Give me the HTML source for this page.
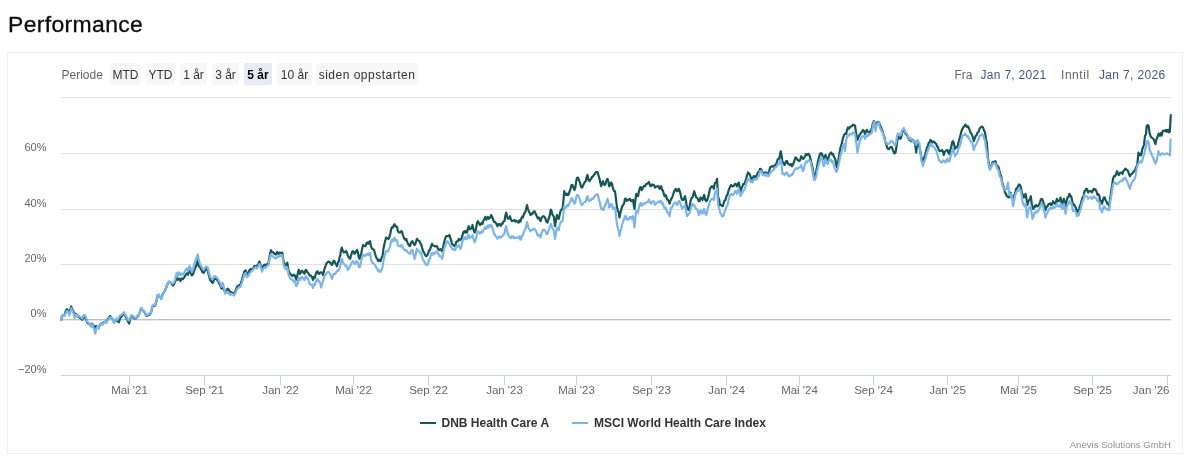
<!DOCTYPE html>
<html lang="no">
<head>
<meta charset="utf-8">
<title>Performance</title>
<style>
html,body{margin:0;padding:0;background:#fff;}
body{width:1186px;height:460px;position:relative;overflow:hidden;font-family:"Liberation Sans", sans-serif;}
h2{position:absolute;left:7.5px;top:11.2px;margin:0;font-size:22.4px;line-height:28px;font-weight:normal;color:#0b0b0b;letter-spacing:0.35px;white-space:nowrap;-webkit-text-stroke:0.3px #0b0b0b;transform:scaleX(1.024);transform-origin:0 0;}
</style>
</head>
<body>
<h2>Performance</h2>
<svg width="1186" height="460" viewBox="0 0 1186 460" style="position:absolute;left:0;top:0;font-family:'Liberation Sans',sans-serif">
<rect x="7.5" y="52.5" width="1175" height="401" fill="#fff" stroke="#eeeeee" stroke-width="1"/>
<path d="M61 97.5 H1171" stroke="#e0e0e0" stroke-width="1" fill="none"/>
<path d="M61 153.5 H1171" stroke="#e0e0e0" stroke-width="1" fill="none"/>
<path d="M61 209.5 H1171" stroke="#e0e0e0" stroke-width="1" fill="none"/>
<path d="M61 264.5 H1171" stroke="#e0e0e0" stroke-width="1" fill="none"/>
<path d="M61 320.5 H1171" stroke="#e6e6e6" stroke-width="1" fill="none"/>
<path d="M61 319.5 H1171" stroke="#c0c0c0" stroke-width="1" fill="none"/>
<path d="M61 375.5 H1171" stroke="#c8d1dc" stroke-width="1" fill="none"/>
<path d="M129.5 376 V385" stroke="#c8d1dc" stroke-width="1" fill="none"/>
<path d="M204.5 376 V385" stroke="#c8d1dc" stroke-width="1" fill="none"/>
<path d="M280.5 376 V385" stroke="#c8d1dc" stroke-width="1" fill="none"/>
<path d="M353.5 376 V385" stroke="#c8d1dc" stroke-width="1" fill="none"/>
<path d="M428.5 376 V385" stroke="#c8d1dc" stroke-width="1" fill="none"/>
<path d="M504.5 376 V385" stroke="#c8d1dc" stroke-width="1" fill="none"/>
<path d="M576.5 376 V385" stroke="#c8d1dc" stroke-width="1" fill="none"/>
<path d="M651.5 376 V385" stroke="#c8d1dc" stroke-width="1" fill="none"/>
<path d="M726.5 376 V385" stroke="#c8d1dc" stroke-width="1" fill="none"/>
<path d="M799.5 376 V385" stroke="#c8d1dc" stroke-width="1" fill="none"/>
<path d="M873.5 376 V385" stroke="#c8d1dc" stroke-width="1" fill="none"/>
<path d="M947.5 376 V385" stroke="#c8d1dc" stroke-width="1" fill="none"/>
<path d="M1018.5 376 V385" stroke="#c8d1dc" stroke-width="1" fill="none"/>
<path d="M1092.5 376 V385" stroke="#c8d1dc" stroke-width="1" fill="none"/>
<path d="M1167.5 376 V385" stroke="#c8d1dc" stroke-width="1" fill="none"/>
<text x="46.5" y="150.5" text-anchor="end" font-size="11" fill="#666">60%</text>
<text x="46.5" y="206.5" text-anchor="end" font-size="11" fill="#666">40%</text>
<text x="46.5" y="261.5" text-anchor="end" font-size="11" fill="#666">20%</text>
<text x="46.5" y="316.5" text-anchor="end" font-size="11" fill="#666">0%</text>
<text x="46.5" y="372.5" text-anchor="end" font-size="11" fill="#666">−20%</text>
<text x="129.5" y="394" text-anchor="middle" font-size="11.5" fill="#666">Mai '21</text>
<text x="204.5" y="394" text-anchor="middle" font-size="11.5" fill="#666">Sep '21</text>
<text x="280.5" y="394" text-anchor="middle" font-size="11.5" fill="#666">Jan '22</text>
<text x="353.5" y="394" text-anchor="middle" font-size="11.5" fill="#666">Mai '22</text>
<text x="428.5" y="394" text-anchor="middle" font-size="11.5" fill="#666">Sep '22</text>
<text x="504.5" y="394" text-anchor="middle" font-size="11.5" fill="#666">Jan '23</text>
<text x="576.5" y="394" text-anchor="middle" font-size="11.5" fill="#666">Mai '23</text>
<text x="651.5" y="394" text-anchor="middle" font-size="11.5" fill="#666">Sep '23</text>
<text x="726.5" y="394" text-anchor="middle" font-size="11.5" fill="#666">Jan '24</text>
<text x="799.5" y="394" text-anchor="middle" font-size="11.5" fill="#666">Mai '24</text>
<text x="873.5" y="394" text-anchor="middle" font-size="11.5" fill="#666">Sep '24</text>
<text x="947.5" y="394" text-anchor="middle" font-size="11.5" fill="#666">Jan '25</text>
<text x="1018.5" y="394" text-anchor="middle" font-size="11.5" fill="#666">Mai '25</text>
<text x="1092.5" y="394" text-anchor="middle" font-size="11.5" fill="#666">Sep '25</text>
<text x="1169.5" y="394" text-anchor="end" font-size="11.5" fill="#666">Jan '26</text>
<path d="M61.3 319.8 L62.0 316.0 L63.2 315.1 L64.5 315.4 L65.8 310.9 L67.0 309.1 L68.3 310.9 L69.2 313.5 L70.2 309.7 L71.2 306.5 L72.1 309.1 L73.4 311.6 L74.6 313.5 L75.9 313.9 L77.2 316.0 L78.4 316.6 L79.7 317.7 L80.9 318.5 L82.2 319.8 L83.5 317.3 L84.7 316.6 L86.0 319.2 L87.3 323.0 L88.5 323.6 L89.8 324.2 L91.1 326.1 L92.3 323.6 L93.6 326.8 L94.45 326.2 L95.3 329.3 L96.1 326.1 L97.4 327.4 L98.7 327.4 L99.9 324.9 L101.2 323.6 L102.5 324.2 L103.7 322.3 L105.0 321.7 L106.3 322.3 L107.5 319.8 L108.8 317.9 L110.1 316.0 L111.3 317.9 L112.6 319.2 L113.9 321.7 L115.1 321.1 L116.4 320.4 L117.7 321.1 L118.9 322.3 L120.2 317.9 L121.5 316.6 L122.7 314.7 L124.0 313.5 L125.3 316.0 L126.5 318.5 L127.8 321.1 L129.1 323.6 L130.3 318.5 L131.6 315.4 L132.8 316.6 L134.1 318.5 L135.4 318.5 L136.35 317.98 L137.3 316.6 L138.5 315.4 L139.8 312.2 L141.1 308.4 L142.3 309.7 L143.6 310.9 L144.9 312.8 L146.1 315.4 L147.4 316.0 L148.7 314.7 L149.9 314.7 L151.2 312.2 L152.5 306.5 L153.7 305.3 L155.0 305.9 L156.3 302.1 L157.5 295.8 L158.8 295.1 L160.1 297.5 L161.4 298.8 L162.7 293.7 L163.9 292.5 L165.2 289.9 L166.5 286.8 L167.7 283.6 L169.0 281.7 L170.3 282.3 L171.5 283.6 L172.8 285.5 L174.1 284.2 L175.3 281.1 L176.6 277.9 L177.8 279.8 L179.1 278.5 L180.4 281.1 L181.6 278.5 L182.9 279.2 L184.2 277.3 L185.4 275.4 L186.7 273.5 L188.0 274.7 L189.2 270.9 L190.5 272.2 L191.8 275.4 L193.0 274.1 L194.3 270.3 L195.6 267.2 L196.8 264.0 L197.8 260.2 L198.7 265.9 L200.0 267.2 L201.3 269.7 L202.5 272.2 L203.8 272.8 L205.1 270.3 L206.3 269.1 L207.6 270.3 L208.9 275.4 L210.1 279.8 L211.4 281.7 L212.7 283.0 L213.9 279.8 L215.2 278.5 L216.5 279.2 L217.7 280.4 L219.0 283.0 L220.3 285.5 L221.5 288.7 L222.8 286.8 L224.1 289.9 L225.3 292.5 L226.6 289.9 L227.8 288.7 L229.1 290.6 L230.4 291.8 L231.6 292.5 L232.9 293.1 L234.2 293.7 L235.4 291.2 L236.7 287.4 L238.0 285.5 L239.2 285.5 L240.5 284.2 L241.8 280.4 L243.0 276.0 L244.3 271.6 L245.6 270.3 L246.8 274.7 L248.1 273.5 L249.4 270.3 L250.6 269.1 L251.9 269.7 L253.2 268.4 L254.4 265.9 L255.7 266.5 L257.0 265.9 L258.2 264.0 L259.5 261.5 L260.8 265.9 L262.0 268.4 L263.3 265.9 L264.6 264.6 L265.8 265.3 L267.1 264.0 L268.4 263.4 L269.6 256.4 L270.9 250.1 L272.2 252.0 L273.4 252.6 L274.7 253.9 L275.9 254.5 L277.2 252.0 L278.5 253.9 L279.7 252.6 L281.0 253.2 L282.3 252.6 L283.5 260.8 L284.8 264.6 L286.1 265.3 L287.3 262.7 L288.6 270.9 L289.9 273.5 L291.1 274.7 L292.4 276.0 L293.7 274.7 L294.9 275.4 L296.2 279.8 L297.5 274.7 L298.7 269.7 L300.0 273.8 L300.83 272.47 L301.67 270.77 L302.5 271.2 L303.5 272.71 L304.5 273.8 L305.35 270.52 L306.2 270.0 L307.07 271.98 L307.93 272.6 L308.8 273.8 L309.6 275.51 L310.4 275.33 L311.2 276.2 L312.1 277.19 L313.0 280.0 L313.83 276.97 L314.67 278.02 L315.5 275.0 L316.5 272.12 L317.5 271.2 L318.5 273.73 L319.5 273.8 L320.35 272.26 L321.2 272.5 L322.1 272.69 L323.0 275.0 L323.83 271.5 L324.67 268.19 L325.5 266.2 L326.5 263.32 L327.5 262.5 L328.33 261.4 L329.17 261.91 L330.0 262.5 L331.0 263.73 L332.0 265.0 L332.83 262.87 L333.67 260.73 L334.5 261.2 L335.33 263.49 L336.17 264.22 L337.0 266.2 L337.83 262.95 L338.67 261.64 L339.5 257.5 L340.27 255.12 L341.03 250.36 L341.8 247.5 L342.8 250.73 L343.8 252.5 L344.6 251.81 L345.4 252.16 L346.2 251.2 L347.1 253.02 L348.0 256.2 L349.0 257.64 L350.0 258.8 L350.83 256.32 L351.67 253.33 L352.5 251.2 L353.5 251.53 L354.5 253.8 L355.33 252.94 L356.17 251.03 L357.0 250.0 L357.83 252.05 L358.67 256.51 L359.5 258.8 L360.35 256.64 L361.2 253.8 L362.1 248.85 L363.0 245.0 L364.0 245.69 L365.0 246.2 L365.83 245.24 L366.67 242.95 L367.5 242.5 L368.33 243.81 L369.17 241.94 L370.0 241.2 L371.0 246.2 L372.0 248.8 L373.0 249.06 L374.0 250.0 L375.1 253.78 L376.2 257.5 L377.2 258.8 L378.2 261.2 L378.97 259.72 L379.73 260.58 L380.5 261.2 L381.5 257.93 L382.5 256.2 L383.5 248.31 L384.5 243.8 L385.35 240.15 L386.2 237.5 L387.07 237.94 L387.93 238.79 L388.8 238.8 L389.6 236.16 L390.4 233.47 L391.2 228.8 L392.07 227.19 L392.93 227.6 L393.8 225.0 L394.6 224.29 L395.4 226.48 L396.2 226.2 L397.07 227.21 L397.93 231.43 L398.8 232.5 L399.6 232.34 L400.4 232.32 L401.2 231.2 L402.07 231.75 L402.93 235.01 L403.8 237.5 L404.6 239.14 L405.4 239.76 L406.2 238.8 L407.1 241.65 L408.0 243.8 L409.0 245.44 L410.0 246.2 L410.83 243.39 L411.67 241.46 L412.5 241.2 L413.5 243.16 L414.5 245.0 L415.33 244.21 L416.17 241.08 L417.0 238.8 L417.83 240.34 L418.67 240.67 L419.5 241.2 L420.33 243.28 L421.17 244.36 L422.0 247.5 L423.0 250.82 L424.0 252.5 L425.1 254.79 L426.2 256.2 L427.1 255.48 L428.0 253.8 L429.0 250.67 L430.0 250.0 L431.0 246.47 L432.0 243.8 L432.83 245.53 L433.67 245.67 L434.5 246.2 L435.33 246.17 L436.17 246.52 L437.0 246.2 L437.83 248.51 L438.67 249.39 L439.5 250.0 L440.33 249.15 L441.17 249.8 L442.0 251.2 L442.9 248.16 L443.8 243.8 L444.65 240.41 L445.5 237.5 L446.5 235.9 L447.5 236.2 L448.5 236.19 L449.5 235.0 L450.33 238.16 L451.17 240.24 L452.0 243.8 L452.83 244.48 L453.67 245.16 L454.5 246.2 L455.33 245.56 L456.17 242.0 L457.0 241.2 L457.9 241.43 L458.8 238.8 L459.65 239.39 L460.5 240.0 L461.5 238.86 L462.5 235.0 L463.5 231.93 L464.5 231.2 L465.33 232.7 L466.17 230.88 L467.0 232.5 L467.9 228.36 L468.8 226.2 L469.65 229.22 L470.5 228.8 L471.5 228.16 L472.5 225.0 L473.5 229.66 L474.5 232.5 L475.35 231.51 L476.2 227.5 L477.1 222.68 L478.0 221.2 L479.0 223.42 L480.0 225.0 L480.83 224.18 L481.67 222.71 L482.5 223.8 L483.5 220.26 L484.5 218.8 L485.33 216.82 L486.17 219.81 L487.0 218.8 L487.83 216.98 L488.67 218.82 L489.5 217.5 L490.35 217.58 L491.2 215.0 L492.2 216.96 L493.2 220.0 L493.97 221.9 L494.73 221.59 L495.5 222.5 L496.5 224.16 L497.5 226.2 L498.33 224.11 L499.17 223.98 L500.0 225.0 L500.83 225.82 L501.67 223.51 L502.5 223.8 L503.5 221.57 L504.5 221.2 L505.35 215.89 L506.2 212.5 L507.1 216.54 L508.0 218.8 L509.0 218.32 L510.0 216.2 L511.0 219.86 L512.0 221.2 L512.83 220.64 L513.67 220.67 L514.5 220.0 L515.33 221.5 L516.17 220.66 L517.0 221.2 L517.9 221.99 L518.8 222.5 L519.6 220.02 L520.4 221.63 L521.2 218.8 L522.1 216.55 L523.0 217.5 L524.0 213.91 L525.0 212.5 L526.0 209.83 L527.0 205.0 L527.9 208.79 L528.8 211.2 L529.65 212.93 L530.5 215.0 L531.5 213.61 L532.5 213.8 L533.5 211.8 L534.5 211.2 L535.35 213.14 L536.2 215.0 L537.07 216.77 L537.93 218.63 L538.8 217.5 L539.65 218.57 L540.5 221.2 L541.33 218.32 L542.17 217.12 L543.0 216.2 L543.83 216.43 L544.67 217.1 L545.5 218.8 L546.5 221.89 L547.5 222.5 L548.35 219.56 L549.2 217.5 L550.0 213.7 L550.8 209.5 L551.65 211.32 L552.5 215.0 L553.8 216.2 L555.0 226.2 L556.0 220.41 L557.0 215.0 L557.9 218.46 L558.8 218.8 L559.65 214.69 L560.5 211.2 L561.5 209.51 L562.5 208.8 L563.35 201.72 L564.2 191.2 L565.2 194.03 L566.2 195.0 L567.07 193.64 L567.93 195.07 L568.8 193.8 L569.65 191.14 L570.5 188.8 L571.5 185.15 L572.5 185.0 L573.5 187.99 L574.5 190.0 L575.35 187.4 L576.2 181.2 L577.1 177.72 L578.0 177.5 L579.0 180.39 L580.0 182.5 L581.0 186.79 L582.0 187.5 L582.9 186.16 L583.8 183.8 L584.8 182.04 L585.8 181.2 L586.65 177.09 L587.5 175.0 L588.5 179.83 L589.5 181.2 L590.35 179.62 L591.2 178.8 L592.07 176.8 L592.93 176.55 L593.8 175.0 L594.65 174.19 L595.5 172.5 L596.5 172.03 L597.5 172.0 L598.5 175.24 L599.5 178.8 L600.35 182.74 L601.2 186.2 L602.1 182.8 L603.0 181.2 L603.75 184.08 L604.5 185.0 L605.35 184.42 L606.2 181.2 L607.5 178.8 L608.35 181.54 L609.2 186.2 L610.2 184.96 L611.2 182.5 L612.1 184.04 L613.0 188.8 L614.0 190.9 L615.0 191.2 L616.2 201.2 L617.1 207.88 L618.0 211.2 L618.75 212.47 L619.5 217.5 L620.35 212.97 L621.2 210.0 L622.2 206.42 L623.2 205.0 L624.1 203.1 L625.0 198.8 L625.83 198.6 L626.67 200.85 L627.5 200.0 L628.5 200.07 L629.5 198.8 L630.35 199.34 L631.2 201.2 L632.1 200.32 L633.0 200.0 L633.75 204.82 L634.5 208.8 L635.35 200.21 L636.2 193.8 L637.1 195.13 L638.0 196.2 L639.0 190.98 L640.0 187.5 L640.83 187.06 L641.67 190.27 L642.5 188.8 L643.33 186.59 L644.17 185.95 L645.0 186.2 L646.0 184.26 L647.0 183.8 L648.0 183.27 L649.0 182.0 L650.1 185.81 L651.2 186.2 L652.1 184.37 L653.0 185.0 L654.0 185.1 L655.0 187.5 L655.83 186.8 L656.67 186.6 L657.5 186.2 L658.5 186.38 L659.5 188.8 L660.35 186.68 L661.2 186.2 L662.07 189.89 L662.93 190.51 L663.8 193.8 L664.6 196.1 L665.4 194.98 L666.2 196.2 L667.1 199.45 L668.0 200.0 L668.75 201.33 L669.5 203.8 L670.35 201.27 L671.2 198.8 L672.1 197.76 L673.0 195.0 L674.0 191.63 L675.0 190.0 L676.0 188.76 L677.0 191.2 L677.9 191.17 L678.8 188.8 L679.6 190.61 L680.4 193.53 L681.2 197.5 L682.1 199.85 L683.0 200.0 L684.0 198.96 L685.0 196.2 L686.0 201.45 L687.0 207.5 L687.9 208.98 L688.8 210.0 L689.65 206.32 L690.5 201.2 L691.5 198.4 L692.5 197.5 L693.35 194.7 L694.2 191.2 L695.2 194.52 L696.2 197.5 L697.07 197.7 L697.93 199.23 L698.8 201.2 L699.65 201.15 L700.5 197.5 L701.5 198.37 L702.5 200.0 L703.35 197.07 L704.2 195.0 L705.2 199.67 L706.2 201.2 L707.1 200.39 L708.0 197.5 L709.0 193.48 L710.0 188.8 L711.0 187.15 L712.0 186.2 L712.9 186.68 L713.8 188.8 L714.65 184.0 L715.5 182.5 L716.25 181.79 L717.0 178.8 L718.2 197.5 L719.1 199.39 L720.0 205.0 L721.0 204.82 L722.0 206.2 L722.9 205.99 L723.8 202.5 L724.65 200.47 L725.5 200.0 L726.5 195.9 L727.5 195.0 L728.35 191.41 L729.2 188.8 L730.2 186.39 L731.2 185.0 L732.1 186.37 L733.0 186.2 L734.0 185.64 L735.0 183.8 L736.0 184.27 L737.0 186.2 L737.9 183.61 L738.8 182.5 L739.65 186.94 L740.5 191.2 L741.5 188.21 L742.5 186.2 L743.5 183.75 L744.5 183.8 L745.35 181.29 L746.2 178.8 L747.1 175.32 L748.0 172.5 L749.0 173.37 L750.0 175.0 L750.83 177.74 L751.67 178.33 L752.5 180.0 L753.5 176.42 L754.5 176.2 L755.33 177.24 L756.17 176.22 L757.0 175.0 L757.9 172.47 L758.8 172.5 L760.0 168.8 L761.0 169.02 L762.0 171.2 L762.9 173.6 L763.8 173.8 L764.6 172.55 L765.4 174.45 L766.2 172.5 L767.1 172.9 L768.0 173.8 L769.0 172.46 L770.0 167.5 L771.0 166.82 L772.0 166.2 L772.9 166.17 L773.8 167.5 L774.65 165.48 L775.5 165.0 L776.5 163.28 L777.5 160.0 L778.35 158.55 L779.2 158.8 L780.0 154.67 L780.8 151.2 L781.65 156.07 L782.5 162.5 L783.5 162.62 L784.5 165.0 L785.35 163.29 L786.2 161.2 L787.1 161.11 L788.0 163.8 L789.0 164.3 L790.0 165.0 L791.0 163.95 L792.0 166.2 L792.9 164.72 L793.8 162.5 L794.65 159.83 L795.5 157.5 L796.5 158.13 L797.5 160.0 L798.35 160.32 L799.2 161.2 L800.2 159.94 L801.2 156.2 L802.1 157.53 L803.0 158.8 L804.0 158.07 L805.0 156.2 L806.0 153.92 L807.0 155.0 L807.9 154.0 L808.8 153.8 L809.65 155.84 L810.5 158.8 L811.5 163.38 L812.5 167.5 L813.35 172.4 L814.2 176.2 L815.2 174.73 L816.2 171.2 L817.1 166.4 L818.0 161.2 L819.0 157.56 L820.0 153.8 L821.0 153.23 L822.0 153.8 L822.9 157.67 L823.8 158.8 L824.65 156.62 L825.5 155.0 L826.5 158.42 L827.5 160.0 L828.35 158.57 L829.2 155.0 L830.2 153.27 L831.2 152.5 L832.1 154.48 L833.0 153.8 L833.83 156.65 L834.67 157.87 L835.5 160.0 L836.25 164.86 L837.0 167.5 L837.9 163.15 L838.8 157.5 L839.65 152.51 L840.5 147.5 L841.5 144.73 L842.5 140.0 L843.35 137.02 L844.2 135.0 L845.2 133.7 L846.2 133.8 L847.1 129.89 L848.0 127.5 L849.0 128.74 L850.0 127.0 L851.0 126.36 L852.0 126.2 L852.9 124.66 L853.8 125.0 L855.0 125.5 L856.2 133.8 L857.5 140.0 L858.5 136.93 L859.5 135.0 L860.35 133.8 L861.2 132.5 L862.1 131.58 L863.0 130.0 L864.0 130.79 L865.0 133.8 L865.9 131.69 L866.8 130.0 L867.8 131.65 L868.8 132.5 L869.65 131.74 L870.5 131.2 L871.25 129.69 L872.0 127.5 L872.9 123.03 L873.8 121.2 L874.65 123.52 L875.5 127.5 L876.25 124.67 L877.0 122.5 L877.9 123.07 L878.8 122.0 L879.65 124.33 L880.5 126.2 L881.5 128.55 L882.5 131.2 L883.5 134.76 L884.5 137.5 L885.35 142.31 L886.2 143.8 L887.1 147.78 L888.0 148.8 L889.0 149.19 L890.0 147.5 L891.0 146.83 L892.0 147.5 L892.9 150.17 L893.8 152.5 L894.65 153.43 L895.5 152.5 L896.25 148.3 L897.0 142.5 L897.9 137.7 L898.8 136.2 L899.65 138.48 L900.5 138.8 L901.25 137.01 L902.0 132.5 L902.9 131.35 L903.8 128.8 L904.65 130.87 L905.5 133.8 L906.5 134.59 L907.5 136.2 L908.5 138.43 L909.5 140.0 L910.35 139.26 L911.2 141.2 L912.1 139.63 L913.0 140.0 L914.0 142.14 L915.0 142.5 L916.2 152.5 L917.5 141.2 L918.5 144.4 L919.5 147.5 L920.35 151.33 L921.2 156.2 L922.1 160.0 L923.0 163.8 L924.0 157.97 L925.0 155.0 L926.0 151.16 L927.0 147.5 L927.9 146.04 L928.8 142.5 L929.65 142.64 L930.5 140.0 L931.5 140.9 L932.5 142.5 L933.5 141.64 L934.5 142.0 L935.35 143.49 L936.2 143.8 L937.1 146.25 L938.0 147.5 L939.0 150.43 L940.0 151.2 L941.0 150.85 L942.0 150.0 L942.9 151.33 L943.8 155.0 L944.65 151.95 L945.5 151.2 L946.5 150.3 L947.5 150.0 L948.5 153.2 L949.5 153.8 L950.35 149.57 L951.2 147.5 L952.1 142.42 L953.0 141.2 L954.0 143.85 L955.0 148.8 L956.0 147.32 L957.0 147.5 L957.9 144.77 L958.8 141.2 L959.65 138.41 L960.5 135.0 L961.5 130.99 L962.5 128.8 L963.5 126.96 L964.5 126.2 L965.35 124.53 L966.2 125.8 L967.1 127.11 L968.0 126.2 L969.0 128.38 L970.0 131.2 L971.0 133.26 L972.0 135.0 L972.9 137.56 L973.8 141.2 L974.65 138.59 L975.5 136.2 L976.5 135.46 L977.5 132.5 L978.5 132.28 L979.5 128.8 L980.35 127.77 L981.2 127.0 L982.1 126.61 L983.0 127.5 L984.0 130.38 L985.0 132.5 L985.9 138.39 L986.8 142.5 L988.2 160.0 L989.1 164.74 L990.0 168.8 L991.0 167.1 L992.0 163.8 L992.9 161.83 L993.8 162.5 L994.65 161.52 L995.5 161.2 L996.5 164.93 L997.5 166.2 L998.5 167.03 L999.5 171.2 L1000.35 174.63 L1001.2 176.2 L1002.1 181.67 L1003.0 185.0 L1004.0 187.8 L1005.0 192.5 L1005.9 193.75 L1006.8 196.2 L1007.8 196.59 L1008.8 197.5 L1009.65 195.68 L1010.5 192.5 L1011.5 197.24 L1012.5 200.0 L1013.5 197.7 L1014.5 195.0 L1015.35 192.43 L1016.2 188.8 L1017.1 188.0 L1018.0 186.2 L1019.0 184.43 L1020.0 185.0 L1021.0 187.7 L1022.0 193.8 L1022.9 194.58 L1023.8 197.5 L1024.65 197.05 L1025.5 193.8 L1026.5 199.14 L1027.5 205.0 L1028.35 201.27 L1029.2 200.0 L1030.0 199.5 L1030.8 196.2 L1031.65 203.3 L1032.5 208.8 L1033.5 208.79 L1034.5 206.2 L1035.35 206.63 L1036.2 205.0 L1037.1 206.34 L1038.0 206.2 L1039.0 204.79 L1040.0 202.5 L1040.9 199.33 L1041.8 198.8 L1042.8 200.51 L1043.8 203.8 L1044.65 206.14 L1045.5 210.0 L1046.5 207.05 L1047.5 206.2 L1048.5 204.3 L1049.5 203.8 L1050.35 203.4 L1051.2 205.0 L1052.1 204.14 L1053.0 201.2 L1054.0 202.85 L1055.0 203.8 L1056.0 201.85 L1057.0 198.8 L1057.9 201.29 L1058.8 201.2 L1059.65 200.68 L1060.5 197.5 L1061.5 201.95 L1062.5 203.8 L1063.8 198.8 L1064.65 202.21 L1065.5 207.5 L1066.5 201.53 L1067.5 197.5 L1068.5 197.06 L1069.5 193.8 L1070.35 195.86 L1071.2 196.2 L1072.1 200.26 L1073.0 205.0 L1074.0 204.33 L1075.0 206.2 L1076.0 208.13 L1077.0 212.5 L1077.9 210.24 L1078.8 211.2 L1079.8 206.47 L1080.8 203.8 L1081.65 200.66 L1082.5 197.5 L1083.5 196.2 L1084.5 191.2 L1085.35 190.67 L1086.2 188.8 L1087.2 189.34 L1088.2 192.5 L1089.1 191.57 L1090.0 191.2 L1091.0 191.01 L1092.0 192.5 L1092.9 190.56 L1093.8 188.8 L1094.65 189.98 L1095.5 189.5 L1096.5 191.51 L1097.5 195.0 L1098.5 194.21 L1099.5 196.2 L1100.0 201.2 L1101.0 200.7 L1102.0 203.8 L1102.9 200.56 L1103.8 197.5 L1104.65 197.32 L1105.5 200.0 L1106.5 201.57 L1107.5 203.8 L1108.35 204.39 L1109.2 206.2 L1110.2 198.39 L1111.2 191.2 L1112.1 185.31 L1113.0 178.8 L1114.0 176.11 L1115.0 176.2 L1116.0 174.61 L1117.0 171.2 L1117.9 173.73 L1118.8 175.0 L1119.65 173.4 L1120.5 172.5 L1121.5 172.58 L1122.5 173.8 L1123.5 170.84 L1124.5 170.0 L1125.35 168.62 L1126.2 169.5 L1127.1 169.95 L1128.0 171.2 L1129.0 174.18 L1130.0 176.2 L1131.0 174.25 L1132.0 173.8 L1132.9 172.59 L1133.8 171.2 L1134.65 171.11 L1135.5 168.8 L1136.35 166.76 L1137.2 165.1 L1138.5 152.7 L1139.2 155.3 L1140.2 154.0 L1141.1 155.3 L1142.4 148.7 L1143.3 146.8 L1144.1 144.2 L1145.0 135.7 L1146.0 134.4 L1146.7 125.9 L1147.7 125.2 L1148.6 125.9 L1149.6 133.1 L1150.7 136.3 L1151.6 137.6 L1152.9 138.3 L1154.2 140.2 L1155.5 144.2 L1156.4 139.6 L1157.4 137.0 L1158.7 133.7 L1159.8 135.7 L1160.7 133.1 L1161.6 135.7 L1162.7 131.1 L1164.0 130.5 L1165.0 131.1 L1165.9 129.8 L1166.8 131.8 L1167.9 129.8 L1168.9 132.4 L1169.8 131.8 L1170.8 115.2" stroke="#145754" stroke-width="2.2" fill="none" stroke-linejoin="round" stroke-linecap="round"/>
<path d="M61.3 319.8 L62.0 315.4 L63.2 314.7 L64.5 316.0 L65.8 312.8 L67.0 310.9 L68.3 312.2 L69.2 315.4 L70.2 312.2 L71.2 308.4 L72.1 310.3 L73.4 312.8 L74.6 317.9 L75.9 314.7 L77.2 316.6 L78.4 315.4 L79.7 316.6 L80.9 317.3 L82.2 318.5 L83.5 315.4 L84.7 315.1 L86.0 317.3 L87.3 321.7 L88.5 323.0 L89.8 323.6 L91.1 326.8 L92.3 324.2 L93.6 328.0 L94.45 329.82 L95.3 333.7 L96.1 329.3 L97.4 326.8 L98.7 328.7 L99.9 325.5 L101.2 323.6 L102.5 324.9 L103.7 323.0 L105.0 321.7 L106.3 323.0 L107.5 320.4 L108.8 319.2 L110.1 317.3 L111.3 317.9 L112.6 319.8 L113.9 323.0 L115.1 321.1 L116.4 318.5 L117.7 319.8 L118.9 317.3 L120.2 315.4 L121.5 314.7 L122.7 313.5 L124.0 312.2 L125.3 314.7 L126.5 316.6 L127.8 319.8 L129.1 320.4 L130.3 317.3 L131.6 315.4 L132.8 316.0 L134.1 317.3 L135.4 317.9 L136.35 317.48 L137.3 316.0 L138.5 315.4 L139.8 312.2 L141.1 307.8 L142.3 309.1 L143.6 310.3 L144.9 312.2 L146.1 314.7 L147.4 315.4 L148.7 313.5 L149.9 314.1 L151.2 312.2 L152.5 305.9 L153.7 304.6 L155.0 305.3 L156.3 301.5 L157.5 295.1 L158.8 294.5 L160.1 297.5 L161.4 298.8 L162.7 293.7 L163.9 292.5 L165.2 289.9 L166.5 286.8 L167.7 283.6 L169.0 281.7 L170.3 282.3 L171.5 283.0 L172.8 283.6 L174.1 282.3 L175.3 278.5 L176.6 272.8 L177.8 276.0 L179.1 272.2 L180.4 275.4 L181.6 273.5 L182.9 274.7 L184.2 272.8 L185.4 270.3 L186.7 268.4 L188.0 270.9 L189.2 265.9 L190.5 267.8 L191.8 272.2 L193.0 269.7 L194.3 264.0 L195.6 260.2 L196.8 257.0 L197.8 254.5 L198.7 259.6 L200.0 264.0 L201.3 265.9 L202.5 268.4 L203.8 269.7 L205.1 267.8 L206.3 266.5 L207.6 267.2 L208.9 272.2 L210.1 276.6 L211.4 278.5 L212.7 279.2 L213.9 276.6 L215.2 276.0 L216.5 277.3 L217.7 278.5 L219.0 281.1 L220.3 283.0 L221.5 286.8 L222.8 283.0 L224.1 288.0 L225.3 293.7 L226.6 292.5 L227.8 291.8 L229.1 293.7 L230.4 295.0 L231.6 293.7 L232.9 294.4 L234.2 295.6 L235.4 293.1 L236.7 289.9 L238.0 288.0 L239.2 287.4 L240.5 286.8 L241.8 283.0 L243.0 279.2 L244.3 274.7 L245.6 272.8 L246.8 277.3 L248.1 276.6 L249.4 273.5 L250.6 272.2 L251.9 270.9 L253.2 269.7 L254.4 267.8 L255.7 267.2 L257.0 268.4 L258.2 266.5 L259.5 264.0 L260.8 267.2 L262.0 271.6 L263.3 269.1 L264.6 267.2 L265.8 267.8 L267.1 265.9 L268.4 265.3 L269.6 258.9 L270.9 254.5 L272.2 255.8 L273.4 257.0 L274.7 257.7 L275.9 258.3 L277.2 256.4 L278.5 257.0 L279.7 255.8 L281.0 255.8 L282.3 255.1 L283.5 264.0 L284.8 267.8 L286.1 269.1 L287.3 267.2 L288.6 274.7 L289.9 277.9 L291.1 279.2 L292.4 279.8 L293.7 281.7 L294.9 280.4 L296.2 286.1 L297.5 284.2 L298.7 277.9 L300.0 280.0 L300.83 278.0 L301.67 276.87 L302.5 277.5 L303.5 279.3 L304.5 280.0 L305.35 277.01 L306.2 276.2 L307.07 278.6 L307.93 279.12 L308.8 281.2 L309.6 283.89 L310.4 284.24 L311.2 285.0 L312.1 285.33 L313.0 288.0 L313.83 284.52 L314.67 285.35 L315.5 282.5 L316.5 280.06 L317.5 278.8 L318.5 281.5 L319.5 281.2 L320.35 283.73 L321.2 287.5 L322.1 284.01 L323.0 281.2 L323.83 278.16 L324.67 275.66 L325.5 275.0 L326.5 272.95 L327.5 272.5 L328.33 271.84 L329.17 272.26 L330.0 273.8 L331.0 275.81 L332.0 278.8 L332.83 276.2 L333.67 273.89 L334.5 273.8 L335.33 274.02 L336.17 272.25 L337.0 271.2 L337.83 270.38 L338.67 270.64 L339.5 268.8 L340.27 265.95 L341.03 261.76 L341.8 258.8 L342.8 261.94 L343.8 263.8 L344.6 264.4 L345.4 266.0 L346.2 265.5 L347.1 267.45 L348.0 270.0 L349.0 268.4 L350.0 266.2 L350.83 264.64 L351.67 262.71 L352.5 261.2 L353.5 261.62 L354.5 263.8 L355.33 264.06 L356.17 261.6 L357.0 261.2 L357.83 262.34 L358.67 266.28 L359.5 267.5 L360.35 265.34 L361.2 261.2 L362.1 257.79 L363.0 255.0 L364.0 255.14 L365.0 256.2 L365.83 255.49 L366.67 254.1 L367.5 253.8 L368.33 254.91 L369.17 253.44 L370.0 253.0 L371.0 259.14 L372.0 262.5 L373.0 263.14 L374.0 263.8 L375.1 265.3 L376.2 267.5 L377.2 268.78 L378.2 271.2 L378.97 269.84 L379.73 271.41 L380.5 272.0 L381.5 269.85 L382.5 267.5 L383.5 260.38 L384.5 256.2 L385.35 252.97 L386.2 251.2 L387.07 251.31 L387.93 251.38 L388.8 250.0 L389.6 247.7 L390.4 244.99 L391.2 241.2 L392.07 239.7 L392.93 241.25 L393.8 238.8 L394.6 237.81 L395.4 240.68 L396.2 240.0 L397.07 240.47 L397.93 245.55 L398.8 246.2 L399.6 245.99 L400.4 246.56 L401.2 245.0 L402.07 245.39 L402.93 247.61 L403.8 248.8 L404.6 250.22 L405.4 250.67 L406.2 250.0 L407.1 251.59 L408.0 252.5 L409.0 253.51 L410.0 253.8 L410.83 251.43 L411.67 249.87 L412.5 250.0 L413.5 254.42 L414.5 258.8 L415.33 256.6 L416.17 251.88 L417.0 248.8 L417.83 250.3 L418.67 251.17 L419.5 251.2 L420.33 253.24 L421.17 252.73 L422.0 256.2 L423.0 259.69 L424.0 261.2 L425.1 263.14 L426.2 265.0 L427.1 265.26 L428.0 263.8 L429.0 259.8 L430.0 258.8 L431.0 254.49 L432.0 252.5 L432.83 254.74 L433.67 252.95 L434.5 253.8 L435.33 252.6 L436.17 252.36 L437.0 251.2 L437.83 253.41 L438.67 254.59 L439.5 256.2 L440.33 256.18 L441.17 256.8 L442.0 258.8 L442.9 255.35 L443.8 250.0 L444.65 247.24 L445.5 245.0 L446.5 241.64 L447.5 241.2 L448.5 242.69 L449.5 243.8 L450.33 246.17 L451.17 246.09 L452.0 248.8 L452.83 249.55 L453.67 249.02 L454.5 250.0 L455.33 250.14 L456.17 246.09 L457.0 246.2 L457.9 246.66 L458.8 245.0 L459.65 247.09 L460.5 248.8 L461.5 246.06 L462.5 241.2 L463.5 238.34 L464.5 237.5 L465.33 239.46 L466.17 237.38 L467.0 238.8 L467.9 235.37 L468.8 235.0 L469.65 238.1 L470.5 237.5 L471.5 236.86 L472.5 235.0 L473.5 238.9 L474.5 242.5 L475.35 241.04 L476.2 237.5 L477.1 233.04 L478.0 231.2 L479.0 232.72 L480.0 233.8 L480.83 232.39 L481.67 231.69 L482.5 232.5 L483.5 229.63 L484.5 228.8 L485.33 226.82 L486.17 228.95 L487.0 227.5 L487.83 225.77 L488.67 227.51 L489.5 225.0 L490.35 226.46 L491.2 225.0 L492.2 227.48 L493.2 230.0 L493.97 233.77 L494.73 234.37 L495.5 236.2 L496.5 237.01 L497.5 238.8 L498.33 237.17 L499.17 236.55 L500.0 237.5 L500.83 237.67 L501.67 235.94 L502.5 236.2 L503.5 234.62 L504.5 233.8 L505.35 228.7 L506.2 226.2 L507.1 231.45 L508.0 233.8 L509.0 236.48 L510.0 237.5 L511.0 238.11 L512.0 236.2 L512.83 236.42 L513.67 238.19 L514.5 237.5 L515.33 237.96 L516.17 237.46 L517.0 237.5 L517.9 237.85 L518.8 237.5 L519.6 236.1 L520.4 239.7 L521.2 238.8 L522.1 235.42 L523.0 235.0 L524.0 231.45 L525.0 230.0 L526.0 226.96 L527.0 222.0 L527.9 225.53 L528.8 228.8 L529.65 229.77 L530.5 231.2 L531.5 229.74 L532.5 230.0 L533.5 228.53 L534.5 228.8 L535.35 230.47 L536.2 231.2 L537.07 234.12 L537.93 235.72 L538.8 235.0 L539.65 234.9 L540.5 237.5 L541.33 233.72 L542.17 231.78 L543.0 230.0 L543.83 229.71 L544.67 230.2 L545.5 231.2 L546.5 233.96 L547.5 233.8 L548.35 231.25 L549.2 228.8 L550.0 226.13 L550.8 223.8 L551.65 225.74 L552.5 228.8 L553.8 230.0 L555.0 238.8 L556.0 233.19 L557.0 227.5 L557.9 229.34 L558.8 230.0 L559.65 225.1 L560.5 222.5 L561.5 221.46 L562.5 221.2 L563.35 214.67 L564.2 206.2 L565.2 208.19 L566.2 207.5 L567.07 205.0 L567.93 206.06 L568.8 205.0 L569.65 202.7 L570.5 201.2 L571.5 198.23 L572.5 198.8 L573.5 201.99 L574.5 203.8 L575.35 202.09 L576.2 197.5 L577.1 195.04 L578.0 195.0 L579.0 197.38 L580.0 200.0 L581.0 203.97 L582.0 205.0 L582.9 203.9 L583.8 202.5 L584.8 202.13 L585.8 201.2 L586.65 197.78 L587.5 196.2 L588.5 200.19 L589.5 201.2 L590.35 199.95 L591.2 200.0 L592.07 198.43 L592.93 198.82 L593.8 197.5 L594.65 196.4 L595.5 195.0 L596.5 194.59 L597.5 194.2 L598.5 197.39 L599.5 201.2 L600.35 204.98 L601.2 208.8 L602.1 208.4 L603.0 210.0 L603.75 209.78 L604.5 206.2 L605.35 205.37 L606.2 202.5 L607.5 198.8 L608.35 202.41 L609.2 207.5 L610.2 206.69 L611.2 203.8 L612.1 204.98 L613.0 208.8 L614.0 208.46 L615.0 207.5 L616.2 217.5 L617.1 224.91 L618.0 228.8 L618.75 230.77 L619.5 235.8 L620.35 231.33 L621.2 228.8 L622.2 224.28 L623.2 221.2 L624.1 219.02 L625.0 216.2 L625.83 215.99 L626.67 219.68 L627.5 218.8 L628.5 219.28 L629.5 217.5 L630.35 216.83 L631.2 218.8 L632.1 216.84 L633.0 216.2 L633.75 221.75 L634.5 227.5 L635.35 218.4 L636.2 211.2 L637.1 211.31 L638.0 212.5 L639.0 207.18 L640.0 203.8 L640.83 202.91 L641.67 205.81 L642.5 205.0 L643.33 203.4 L644.17 203.29 L645.0 203.8 L646.0 202.41 L647.0 202.5 L648.0 201.95 L649.0 199.5 L650.1 202.64 L651.2 203.8 L652.1 201.63 L653.0 201.2 L654.0 201.59 L655.0 205.0 L655.83 203.77 L656.67 203.21 L657.5 202.5 L658.5 201.4 L659.5 202.5 L660.35 200.81 L661.2 201.2 L662.07 203.85 L662.93 202.98 L663.8 206.2 L664.6 208.81 L665.4 207.2 L666.2 208.8 L667.1 212.07 L668.0 212.5 L668.75 214.34 L669.5 216.2 L670.35 211.3 L671.2 207.5 L672.1 207.67 L673.0 205.0 L674.0 203.62 L675.0 202.5 L676.0 202.56 L677.0 205.0 L677.9 203.9 L678.8 201.2 L679.6 201.35 L680.4 203.09 L681.2 206.2 L682.1 208.41 L683.0 207.5 L684.0 206.76 L685.0 205.0 L686.0 209.94 L687.0 216.2 L687.9 215.33 L688.8 213.8 L689.65 213.0 L690.5 210.0 L691.5 206.53 L692.5 203.8 L693.35 205.6 L694.2 205.0 L695.2 207.64 L696.2 208.8 L697.07 209.24 L697.93 211.87 L698.8 215.0 L699.65 213.86 L700.5 210.0 L701.5 211.32 L702.5 213.8 L703.35 211.02 L704.2 208.8 L705.2 213.36 L706.2 215.0 L707.1 212.38 L708.0 207.5 L709.0 205.25 L710.0 201.2 L711.0 199.8 L712.0 198.8 L712.9 198.58 L713.8 200.0 L714.65 194.19 L715.5 191.2 L716.25 191.26 L717.0 188.8 L718.2 206.2 L719.1 207.6 L720.0 212.5 L721.0 213.74 L722.0 216.2 L722.9 216.32 L723.8 215.0 L724.65 211.38 L725.5 210.0 L726.5 206.68 L727.5 205.0 L728.35 201.58 L729.2 197.5 L730.2 195.55 L731.2 193.8 L732.1 194.55 L733.0 195.0 L734.0 193.94 L735.0 191.2 L736.0 191.1 L737.0 193.8 L737.9 190.85 L738.8 188.8 L739.65 192.3 L740.5 196.2 L741.5 193.39 L742.5 192.5 L743.5 190.23 L744.5 190.0 L745.35 186.75 L746.2 183.8 L747.1 181.03 L748.0 178.8 L749.0 179.87 L750.0 180.0 L750.83 182.01 L751.67 181.72 L752.5 182.5 L753.5 179.47 L754.5 178.8 L755.33 179.97 L756.17 179.58 L757.0 178.8 L757.9 176.52 L758.8 176.2 L760.0 171.2 L761.0 170.88 L762.0 172.5 L762.9 175.24 L763.8 175.0 L764.6 174.12 L765.4 175.79 L766.2 173.8 L767.1 174.56 L768.0 176.2 L769.0 175.76 L770.0 172.5 L771.0 171.85 L772.0 171.2 L772.9 170.15 L773.8 170.0 L774.65 167.39 L775.5 167.5 L776.5 166.64 L777.5 165.0 L778.35 163.89 L779.2 163.8 L780.0 161.06 L780.8 160.0 L781.65 165.97 L782.5 173.8 L783.5 173.49 L784.5 175.0 L785.35 173.8 L786.2 172.5 L787.1 172.76 L788.0 175.0 L789.0 176.19 L790.0 176.2 L791.0 174.58 L792.0 175.0 L792.9 173.66 L793.8 171.2 L794.65 169.81 L795.5 168.8 L796.5 168.07 L797.5 168.8 L798.35 167.97 L799.2 167.5 L800.2 167.5 L801.2 165.0 L802.1 167.95 L803.0 171.2 L804.0 168.54 L805.0 163.8 L806.0 161.39 L807.0 162.5 L807.9 161.14 L808.8 160.0 L809.65 160.22 L810.5 161.2 L811.5 166.25 L812.5 171.2 L813.35 176.23 L814.2 180.0 L815.2 179.46 L816.2 176.2 L817.1 171.73 L818.0 167.5 L819.0 163.73 L820.0 160.0 L821.0 158.31 L822.0 157.5 L822.9 163.51 L823.8 166.2 L824.65 162.62 L825.5 158.8 L826.5 163.02 L827.5 163.8 L828.35 162.75 L829.2 160.0 L830.2 160.39 L831.2 160.0 L832.1 162.11 L833.0 161.2 L833.83 165.45 L834.67 167.83 L835.5 170.0 L836.25 171.96 L837.0 171.2 L837.9 167.96 L838.8 163.8 L839.65 159.43 L840.5 155.0 L841.5 152.5 L842.5 147.5 L843.35 144.5 L844.2 143.8 L845.0 151.2 L846.2 140.0 L847.1 136.99 L848.0 135.0 L849.0 135.68 L850.0 133.8 L851.0 134.03 L852.0 134.5 L852.9 132.42 L853.8 132.5 L855.0 133.8 L856.2 142.5 L857.5 152.5 L858.5 146.9 L859.5 142.5 L860.35 139.89 L861.2 137.5 L862.1 136.62 L863.0 136.2 L864.0 135.82 L865.0 138.8 L865.9 136.93 L866.8 135.0 L867.8 135.76 L868.8 135.0 L869.65 133.98 L870.5 133.8 L871.25 133.54 L872.0 132.5 L872.9 125.71 L873.8 122.0 L874.65 124.88 L875.5 131.2 L876.25 127.52 L877.0 123.8 L877.9 123.9 L878.8 122.5 L879.65 126.51 L880.5 128.8 L881.5 130.94 L882.5 132.5 L883.5 135.65 L884.5 138.8 L885.35 142.18 L886.2 142.5 L887.1 144.06 L888.0 143.8 L889.0 143.61 L890.0 142.5 L891.0 140.93 L892.0 141.2 L892.9 142.0 L893.8 143.8 L894.65 145.23 L895.5 145.0 L896.25 141.72 L897.0 136.2 L897.9 133.37 L898.8 133.8 L899.65 135.42 L900.5 135.0 L901.25 133.97 L902.0 130.0 L902.9 129.85 L903.8 128.0 L904.65 130.43 L905.5 132.5 L906.5 133.16 L907.5 135.0 L908.5 137.28 L909.5 138.8 L910.35 137.65 L911.2 140.0 L912.1 139.25 L913.0 141.2 L914.0 141.62 L915.0 141.2 L916.2 145.0 L917.5 140.0 L918.5 141.96 L919.5 143.8 L920.35 151.27 L921.2 160.0 L922.1 162.78 L923.0 166.2 L924.0 161.97 L925.0 160.0 L926.0 157.11 L927.0 152.5 L927.9 150.76 L928.8 147.5 L929.65 147.16 L930.5 143.8 L931.5 144.46 L932.5 146.2 L933.5 146.62 L934.5 147.5 L935.35 149.85 L936.2 150.0 L937.1 153.87 L938.0 156.2 L939.0 160.3 L940.0 161.2 L941.0 162.32 L942.0 162.5 L942.9 160.39 L943.8 161.2 L944.65 161.21 L945.5 162.5 L946.5 160.02 L947.5 158.8 L948.5 161.51 L949.5 161.2 L950.35 157.09 L951.2 155.0 L952.1 150.61 L953.0 148.8 L954.0 151.61 L955.0 156.2 L956.0 154.33 L957.0 153.8 L957.9 150.81 L958.8 147.5 L959.65 146.36 L960.5 143.8 L961.5 138.5 L962.5 136.2 L963.5 134.96 L964.5 135.0 L965.35 133.68 L966.2 135.0 L967.1 136.74 L968.0 136.2 L969.0 138.16 L970.0 140.0 L971.0 141.98 L972.0 142.5 L972.9 145.93 L973.8 150.0 L974.65 147.14 L975.5 145.0 L976.5 143.53 L977.5 141.2 L978.5 139.87 L979.5 136.2 L980.35 135.43 L981.2 135.0 L982.1 133.99 L983.0 135.0 L984.0 138.79 L985.0 140.0 L985.9 147.18 L986.8 152.5 L988.2 162.5 L989.1 166.89 L990.0 170.0 L991.0 167.8 L992.0 165.0 L992.9 163.29 L993.8 163.8 L994.65 163.02 L995.5 163.8 L996.5 166.73 L997.5 168.8 L998.5 170.38 L999.5 175.0 L1000.35 177.3 L1001.2 178.8 L1002.1 183.82 L1003.0 187.5 L1004.0 187.72 L1005.0 190.0 L1005.9 188.99 L1006.8 188.8 L1008.0 182.5 L1008.75 189.92 L1009.5 195.0 L1010.35 195.38 L1011.2 193.8 L1012.1 199.44 L1013.0 206.2 L1014.0 201.44 L1015.0 196.2 L1016.0 192.82 L1017.0 191.2 L1017.9 190.99 L1018.8 188.8 L1019.65 190.28 L1020.5 190.0 L1021.5 194.57 L1022.5 201.2 L1023.5 204.61 L1024.5 206.2 L1025.8 203.8 L1027.0 217.5 L1028.1 211.86 L1029.2 207.5 L1030.0 207.93 L1030.8 206.2 L1031.65 213.37 L1032.5 218.8 L1033.5 216.82 L1034.5 212.5 L1035.35 213.18 L1036.2 211.2 L1037.1 212.41 L1038.0 211.2 L1039.0 209.46 L1040.0 207.5 L1040.9 205.11 L1041.8 203.8 L1042.8 205.48 L1043.8 210.0 L1044.65 213.06 L1045.5 217.5 L1046.5 214.25 L1047.5 212.5 L1048.5 210.19 L1049.5 208.8 L1050.35 207.58 L1051.2 208.8 L1052.1 208.53 L1053.0 206.2 L1054.0 207.8 L1055.0 207.5 L1056.0 206.17 L1057.0 203.8 L1057.9 206.32 L1058.8 206.2 L1059.65 206.61 L1060.5 203.8 L1061.5 207.66 L1062.5 208.8 L1063.8 203.8 L1064.65 208.4 L1065.5 213.8 L1066.5 207.79 L1067.5 205.0 L1068.5 204.16 L1069.5 201.2 L1070.35 203.0 L1071.2 202.5 L1072.1 206.08 L1073.0 211.2 L1074.0 209.89 L1075.0 211.2 L1076.0 212.49 L1077.0 216.2 L1077.9 214.62 L1078.8 215.0 L1079.8 211.1 L1080.8 208.8 L1081.65 204.58 L1082.5 201.2 L1083.5 199.89 L1084.5 195.0 L1085.35 196.34 L1086.2 196.2 L1087.2 196.55 L1088.2 198.8 L1089.1 197.59 L1090.0 197.5 L1091.0 197.22 L1092.0 198.8 L1092.9 197.46 L1093.8 196.2 L1094.65 197.8 L1095.5 197.5 L1096.5 198.78 L1097.5 201.2 L1098.5 201.34 L1099.5 202.5 L1100.0 208.8 L1101.0 209.42 L1102.0 212.5 L1102.9 209.26 L1103.8 206.2 L1104.65 206.6 L1105.5 208.8 L1106.5 208.68 L1107.5 210.0 L1108.35 209.62 L1109.2 210.0 L1110.2 202.34 L1111.2 196.2 L1112.1 190.98 L1113.0 185.0 L1114.0 182.72 L1115.0 182.5 L1116.0 183.66 L1117.0 183.8 L1117.9 183.83 L1118.8 182.5 L1119.65 181.84 L1120.5 181.2 L1121.5 180.48 L1122.5 181.2 L1123.5 178.4 L1124.5 178.8 L1125.35 177.68 L1126.2 180.0 L1127.1 180.94 L1128.0 183.8 L1129.0 186.22 L1130.0 188.8 L1131.0 184.6 L1132.0 182.5 L1132.9 181.19 L1133.8 180.0 L1134.65 178.61 L1135.5 176.2 L1136.35 170.59 L1137.2 166.4 L1138.2 163.83 L1139.2 163.1 L1140.5 161.1 L1141.8 162.4 L1143.1 157.2 L1144.4 153.3 L1145.0 149.4 L1146.0 146.8 L1146.7 142.2 L1147.7 140.9 L1148.6 142.2 L1149.6 149.4 L1150.7 152.0 L1151.6 154.6 L1152.9 157.2 L1154.2 160.5 L1155.5 163.7 L1156.4 161.1 L1157.4 157.2 L1158.5 151.3 L1159.4 153.3 L1160.3 155.3 L1161.4 154.0 L1162.7 153.3 L1164.0 154.6 L1165.3 154.0 L1166.6 153.3 L1167.9 154.0 L1169.2 154.6 L1170.0 155.3 L1170.6 139.6" stroke="#7cb5ec" stroke-width="2.2" fill="none" stroke-linejoin="round" stroke-linecap="round"/>
<text x="61.5" y="79" font-size="12" fill="#666">Periode</text>
<rect x="110" y="63" width="31" height="22" rx="2" fill="#f7f7f7"/>
<text x="125.5" y="79" text-anchor="middle" font-size="12" fill="#333">MTD</text>
<rect x="146" y="63" width="29" height="22" rx="2" fill="#f7f7f7"/>
<text x="160.5" y="79" text-anchor="middle" font-size="12" fill="#333">YTD</text>
<rect x="180" y="63" width="27" height="22" rx="2" fill="#f7f7f7"/>
<text x="193.5" y="79" text-anchor="middle" font-size="12" fill="#333">1 år</text>
<rect x="212" y="63" width="27" height="22" rx="2" fill="#f7f7f7"/>
<text x="225.5" y="79" text-anchor="middle" font-size="12" fill="#333">3 år</text>
<rect x="244" y="63" width="28" height="22" rx="2" fill="#e6ebf5"/>
<text x="258.0" y="79" text-anchor="middle" font-size="12" fill="#000" font-weight="bold">5 år</text>
<rect x="277" y="63" width="35" height="22" rx="2" fill="#f7f7f7"/>
<text x="294.5" y="79" text-anchor="middle" font-size="12" fill="#333">10 år</text>
<rect x="316" y="63" width="102" height="22" rx="2" fill="#f7f7f7"/>
<text x="367.0" y="79" text-anchor="middle" font-size="12" fill="#333" letter-spacing="0.5">siden oppstarten</text>
<text x="954.5" y="78.5" font-size="12" fill="#666">Fra</text>
<text x="980.5" y="78.5" font-size="12" fill="#445588" letter-spacing="0.3">Jan 7, 2021</text>
<text x="1061" y="78.5" font-size="12" fill="#666" letter-spacing="0.55">Inntil</text>
<text x="1099" y="78.5" font-size="12" fill="#445588" letter-spacing="0.35">Jan 7, 2026</text>
<path d="M420 423 H436" stroke="#145754" stroke-width="2" fill="none"/>
<text x="441.5" y="427" font-size="12" font-weight="bold" fill="#333">DNB Health Care A</text>
<path d="M572 423 H588" stroke="#7cb5ec" stroke-width="2" fill="none"/>
<text x="594" y="427" font-size="12" font-weight="bold" fill="#333">MSCI World Health Care Index</text>
<text x="1171" y="447.5" text-anchor="end" font-size="9.6" fill="#8f9096">Anevis Solutions GmbH</text>
</svg>
</body>
</html>
